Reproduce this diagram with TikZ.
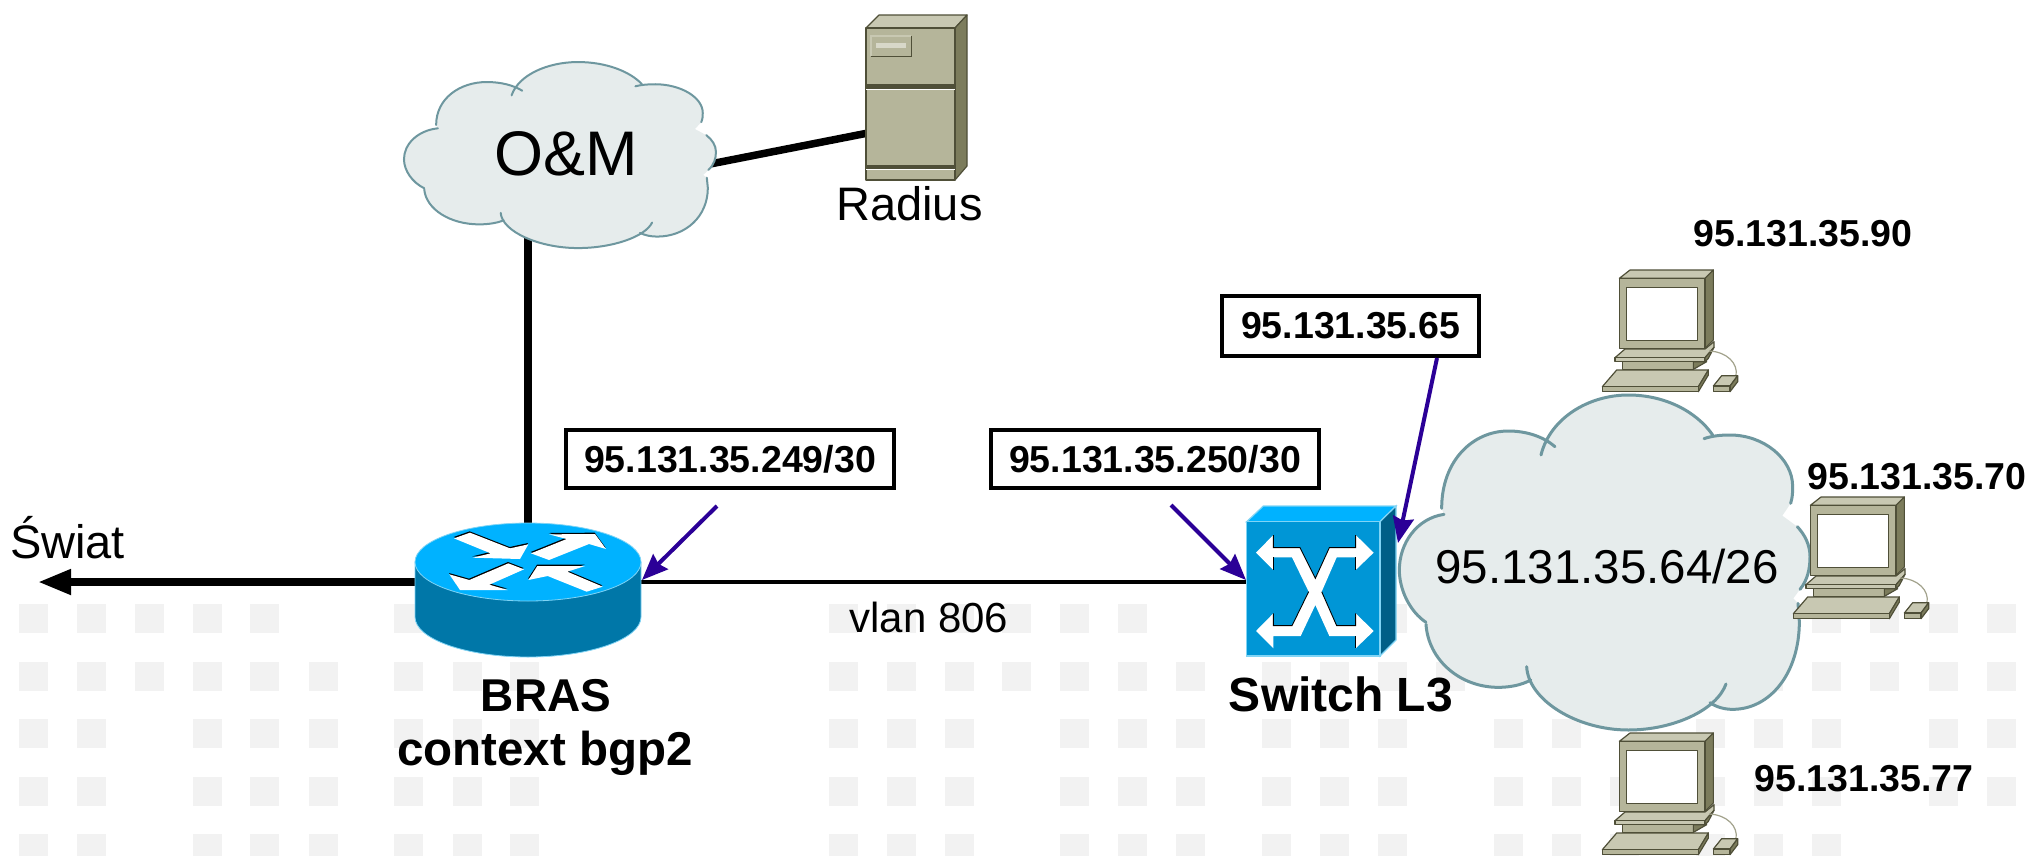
\documentclass[tikz,border=0pt]{standalone}
\usepackage{fontspec}
\setmainfont{Liberation Sans}
\usetikzlibrary{arrows.meta}
\definecolor{cloudfillc}{HTML}{E6ECEC}
\definecolor{cloudlinec}{HTML}{6E979F}
\definecolor{tilec}{HTML}{F2F2F2}
\definecolor{ciscotop}{HTML}{00B2FF}
\definecolor{ciscoside}{HTML}{0077A8}
\definecolor{ciscofront}{HTML}{0096D6}
\definecolor{ciscodark}{HTML}{005F87}
\definecolor{ciscoedge}{HTML}{80D4F5}
\definecolor{bluearrow}{HTML}{2B0097}
\definecolor{begefront}{HTML}{B5B59A}
\definecolor{begetop}{HTML}{C8C8B2}
\definecolor{begeside}{HTML}{7C7C5C}
\definecolor{begedark}{HTML}{4F4F38}
\newcommand{\lobeA}{(192,403) .. controls (110,415) and (58,490) .. (58,570) .. controls (58,630) and (90,695) .. (138,727)}
\newcommand{\lobeB}{(138,733) .. controls (145,840) and (240,922) .. (355,922) .. controls (390,922) and (425,915) .. (452,900)}
\newcommand{\lobeC}{(440,860) .. controls (445,960) and (590,1050) .. (745,1050) .. controls (880,1050) and (1010,990) .. (1038,912)}
\newcommand{\lobeD}{(990,968) .. controls (1010,982) and (1035,988) .. (1058,988) .. controls (1170,988) and (1258,880) .. (1258,725) -- (1254,670)}
\newcommand{\lobeE}{(1260,628) .. controls (1283,600) and (1290,565) .. (1290,530) .. controls (1290,495) and (1275,465) .. (1252,440)}
\newcommand{\lobeF}{(1232,370) .. controls (1238,350) and (1238,335) .. (1238,320) .. controls (1238,235) and (1150,165) .. (1050,165) .. controls (1020,165) and (995,168) .. (972,176)}
\newcommand{\lobeG}{(998,165) .. controls (950,95) and (855,45) .. (745,45) .. controls (625,45) and (510,115) .. (483,225)}
\newcommand{\lobeH}{(525,200) .. controls (490,170) and (440,153) .. (385,153) .. controls (280,153) and (185,240) .. (185,385)}
\tikzset{
  x=1pt,y=-1pt,
  tile/.style={fill=tilec,draw=none},
  boldtext/.style={font=\bfseries\fontsize{37.5}{44}\selectfont,inner sep=0pt,anchor=base},
  bigbold/.style={font=\bfseries\fontsize{47.5}{54}\selectfont,inner sep=0pt,anchor=base},
  plaintext/.style={font=\fontsize{47}{54}\selectfont,inner sep=0pt,anchor=base},
  labelbox/.style={draw=black,fill=white,line width=4pt,inner sep=0pt,
     font=\bfseries\fontsize{37.5}{44}\selectfont,minimum height=58pt},
  thickwire/.style={draw=black,line width=7.5pt},
  thinwire/.style={draw=black,line width=3.5pt},
  pointer/.style={draw=bluearrow,line width=4pt,
     -{Stealth[length=26pt,width=21pt,inset=3pt,fill=bluearrow]}},
  beige/.style={draw=begedark,line width=1.2pt,line join=round},
  netcloud/.pic={
    \fill[cloudfillc] \lobeA -- \lobeB -- \lobeC -- \lobeD -- (1240,655) -- \lobeE -- (1207,407) -- \lobeF -- \lobeG -- \lobeH -- cycle;
    \foreach \lobe in {\lobeA,\lobeB,\lobeC,\lobeD,\lobeE,\lobeF,\lobeG,\lobeH}{
      \draw[cloudlinec,line cap=round] \lobe;
    }
  },
  pcicon/.pic={
    % monitor
    \draw[beige,fill=begetop] (88,55)--(120,30)--(370,30)--(345,55)--cycle;
    \draw[beige,fill=begeside] (345,55)--(370,30)--(370,240)--(345,265)--cycle;
    \draw[beige,fill=begefront] (88,55) rectangle (345,265);
    \draw[beige,fill=white] (110,83) rectangle (322,242);
    % plinth
    \draw[beige,fill=begeside] (105,265)--(330,265)--(330,272)--(105,272)--cycle;
    \draw[beige,fill=begetop] (75,293)--(105,267)--(345,267)--(372,245)--(372,262)--(345,293)--cycle;
    \draw[beige,fill=begetop] (75,293) rectangle (345,305);
    \draw[beige,fill=begeside] (345,293)--(372,262)--(355,295)--(345,305)--cycle;
    \draw[beige,fill=begefront] (97,305) rectangle (310,328);
    \draw[beige,fill=begeside] (310,305)--(350,305)--(310,328)--cycle;
    % cable
    \draw[begeside!70,line width=1.2pt] (357,273) .. controls (410,275) and (445,310) .. (438,347);
    % keyboard
    \draw[beige,fill=begetop] (37,380)--(80,330)--(355,330)--(325,380)--cycle;
    \draw[beige,fill=begeside] (325,380)--(355,330)--(355,345)--(325,395)--cycle;
    \draw[beige,fill=begefront] (37,380) rectangle (325,395);
    % mouse
    \draw[beige,fill=begetop] (370,378)--(395,347)--(443,347)--(420,378)--cycle;
    \draw[beige,fill=begeside] (420,378)--(443,347)--(443,365)--(420,395)--cycle;
    \draw[beige,fill=begefront] (370,378) rectangle (420,395);
  }
}
\begin{document}
\begin{tikzpicture}
\useasboundingbox (0,0) rectangle (2026,855);
\clip (0,0) rectangle (2026,855);
\fill[white] (0,0) rectangle (2026,855);
% background tiles
\foreach \yy/\cols in {
  604/{19,77,135,193,250,394,829,887,945,1002,1060,1118,1378,1436,1812,1870,1929,1987},
  662/{19,77,135,193,250,309,394,453,510,829,887,945,1002,1060,1118,1176,1262,1320,1378,1436,1754,1812,1870,1929,1987},
  719/{19,77,193,250,309,394,453,510,829,887,945,1060,1118,1176,1262,1320,1378,1494,1552,1696,1754,1812,1929,1987},
  777/{19,77,193,250,309,394,453,510,829,887,945,1060,1118,1176,1262,1320,1378,1494,1552,1610,1696,1754,1812,1929,1987},
  834/{19,77,193,250,309,394,453,510,829,887,945,1060,1118,1176,1262,1320,1378,1494,1552,1610,1696,1754,1812}}{
  \foreach \xx in \cols { \fill[tile] (\xx,\yy) rectangle (\xx+29,\yy+29); }
}
% connector end points
\coordinate (omS) at (528,200);
\coordinate (omE) at (700,166);
\coordinate (radiusW) at (868,133);
\coordinate (routerN) at (528,530);
\coordinate (routerW) at (420,582);
\coordinate (routerE) at (638,582);
\coordinate (world) at (38,582);
\coordinate (switchW) at (1250,582);
\coordinate (routerTip) at (642,580);
\coordinate (switchTip) at (1246,580);
\coordinate (switchTipE) at (1398,543);
\coordinate (fromA) at (717,506);
\coordinate (fromB) at (1171,505);
% connectors under the icons
\draw[thickwire] (omS) -- (routerN);
\draw[thickwire] (omE) -- (radiusW);
\draw[thickwire,-{Triangle[length=33pt,width=24pt]}] (routerW) -- (world);
\draw[thinwire] (routerE) -- (switchW);
% clouds
\pic[xscale=.2532,yscale=.1851,line width=2pt] at (389.3,53.7) {netcloud};
\pic[scale=1/3,line width=3pt] at (1380,380) {netcloud};
% radius server
\draw[beige,fill=begetop] (866,28)--(879,15)--(967,15)--(955,28)--cycle;
\draw[beige,fill=begeside] (955,28)--(967,15)--(967,166)--(955,180)--cycle;
\draw[beige,fill=begefront] (866,28) rectangle (955,180);
\fill[begedark] (866,84) rectangle (955,89);
\fill[begedark] (866,165) rectangle (955,169);
\draw[white,line width=.8pt] (866,89.5) -- (955,89.5);
\draw[white,line width=.8pt] (866,169.5) -- (955,169.5);
\fill[begedark] (871,36) rectangle (912,57);
\fill[begetop] (870,35) rectangle (910.5,55.5);
\fill[begefront] (871.5,37) rectangle (910.5,55.5);
\fill[begetop!70!white] (876,43) rectangle (906,48);
% router
\path[fill=ciscoside,draw=ciscoedge,line width=.8pt] (415,562) -- (415,617)
  .. controls (415,639) and (466,657) .. (528,657)
  .. controls (590,657) and (641,639) .. (641,617) -- (641,562) -- cycle;
\draw[fill=ciscotop,draw=ciscoedge,line width=.8pt] (528,562) ellipse [x radius=113pt,y radius=39pt];
\begin{scope}[shift={(400,510)},scale=1/3]
  \foreach \dx/\dy/\colr in {-1/-4/black,0/0/white}{
    \begin{scope}[shift={(\dx,\dy)}]
      \fill[\colr] (162,85)--(210,68)--(330,115)--(385,103)--(360,147)--(218,143)--(272,130)--cycle;
      \fill[\colr] (393,130)--(500,87)--(447,73)--(585,72)--(618,117)--(567,102)--(447,150)--cycle;
      \fill[\colr] (148,193)--(208,210)--(325,160)--(372,178)--(268,224)--(323,240)--(180,240)--cycle;
      \fill[\colr] (385,210)--(412,168)--(555,168)--(502,185)--(608,230)--(560,245)--(443,198)--cycle;
    \end{scope}
  }
\end{scope}
% switch
\begin{scope}[shift={(1210,460)},scale=1/3]
  \draw[ciscoedge,line width=1.2pt,fill=ciscotop] (110,185)--(160,138)--(558,138)--(510,185)--cycle;
  \draw[ciscoedge,line width=1.2pt,fill=ciscodark] (510,185)--(558,138)--(558,540)--(510,588)--cycle;
  \draw[ciscoedge,line width=1.2pt,fill=ciscofront] (110,185) rectangle (510,588);
  \fill[white] (138,278)--(190,225)--(190,263)--(270,263)--(316,355)--(358,263)--(437,263)--(437,225)--(491,278)--(437,330)--(437,292)--(380,292)--(335,395)--(380,497)--(437,497)--(437,460)--(491,513)--(437,565)--(437,528)--(358,528)--(316,435)--(272,528)--(190,528)--(190,565)--(138,513)--(190,460)--(190,497)--(246,497)--(296,395)--(246,292)--(190,292)--(190,330)--cycle;
  \draw[black,line width=.9pt] (190,225)--(190,263)--(270,263)--(316,355)--(358,263)--(437,263)--(437,225);
  \draw[black,line width=.9pt] (190,460)--(190,497)--(246,497)--(296,395);
  \draw[black,line width=.9pt] (335,395)--(380,497)--(437,497)--(437,460);
  \draw[black,line width=.9pt] (437,330)--(437,292);
  \draw[black,line width=.9pt] (437,565)--(437,528);
  \draw[black,line width=.9pt] (190,330)--(190,292);
\end{scope}
% workstations
\pic[scale=1/3] at (1590,260) {pcicon};
\pic[scale=1/3] at (1781,487) {pcicon};
\pic[scale=1/3] at (1590,723) {pcicon};
% boxes
\node[labelbox,minimum width=328pt] (boxA) at (730,459) {95.131.35.249/30};
\node[labelbox,minimum width=328pt] (boxB) at (1155,459) {95.131.35.250/30};
\node[labelbox,minimum width=257pt,minimum height=60pt] (boxC) at (1350.5,326) {95.131.35.65};
% pointers
\draw[pointer] (fromA) -- (routerTip);
\draw[pointer] (fromB) -- (switchTip);
\draw[pointer] (boxC.south -| 1437,0) -- (switchTipE);
% texts
\node[plaintext,font=\fontsize{63}{70}\selectfont] (omText) at (566,175) {O\&M};
\node[plaintext] (radiusText) at (909.5,220) {Radius};
\node[plaintext] (worldText) at (67.5,558) {Świat};
\node[plaintext,font=\fontsize{42}{50}\selectfont] (vlanText) at (929,632) {vlan 806};
\node[plaintext,font=\fontsize{47.5}{56}\selectfont] (netText) at (1607,583) {95.131.35.64/26};
\node[bigbold,font=\bfseries\fontsize{46}{54}\selectfont] (brasText) at (546,711) {BRAS};
\node[bigbold] (ctxText) at (545,765) {context bgp2};
\node[bigbold,font=\bfseries\fontsize{48}{56}\selectfont] (swText) at (1341,711) {Switch L3};
\node[boldtext] (ipA) at (1803,246) {95.131.35.90};
\node[boldtext] (ipB) at (1917,489) {95.131.35.70};
\node[boldtext] (ipC) at (1864,791) {95.131.35.77};
\end{tikzpicture}
\end{document}
